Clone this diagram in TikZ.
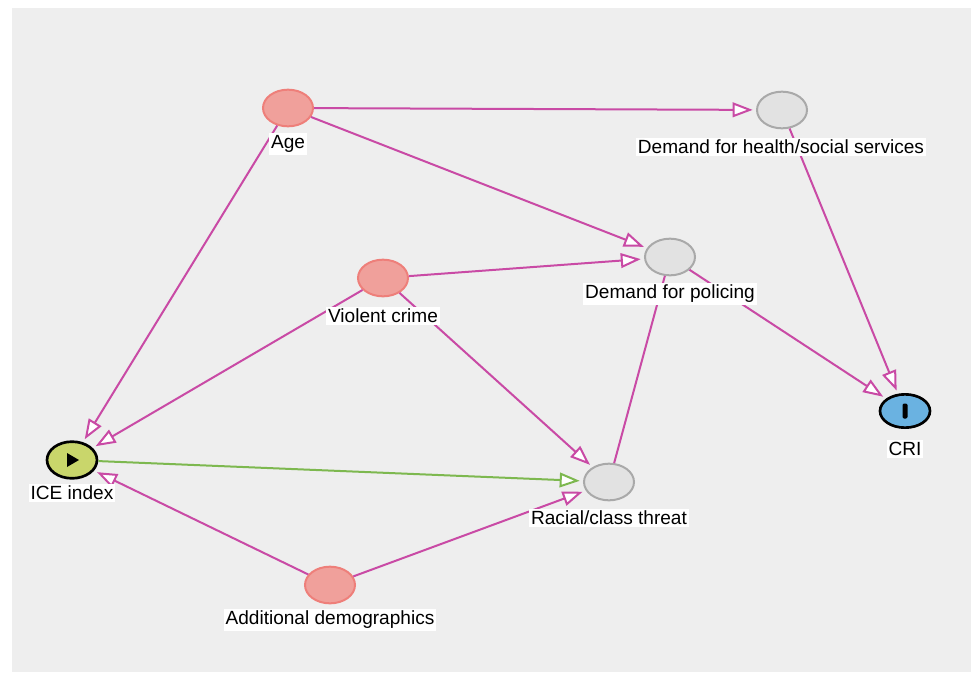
\documentclass[tikz,border=0pt]{standalone}
\usepackage{fontspec}
\setmainfont{Liberation Sans}
\usepackage{xcolor}
\usetikzlibrary{shapes.geometric,arrows.meta}
\definecolor{bgcol}{HTML}{EEEEEE}
\definecolor{edgecol}{HTML}{C94AA5}
\definecolor{greenedge}{HTML}{7DB84F}
\definecolor{pinkfill}{HTML}{F0A09B}
\definecolor{pinkline}{HTML}{EE7F7A}
\definecolor{grayfill}{HTML}{E2E2E2}
\definecolor{grayline}{HTML}{A9A9A9}
\definecolor{icefill}{HTML}{C9D66B}
\definecolor{crifill}{HTML}{6AB2E1}
\tikzset{
  var/.style={ellipse, minimum width=37.5pt, minimum height=27.5pt, inner sep=0pt, line width=1.5pt},
  ancestor/.style={var, fill=pinkfill, draw=pinkline},
  mediator/.style={var, fill=grayfill, draw=grayline},
  exposure/.style={var, fill=icefill, draw=black, line width=2pt},
  outcome/.style={var, fill=crifill, draw=black, line width=2pt, minimum height=25pt},
  lbl/.style={fill=white, inner sep=1.5pt, font=\fontsize{14.3}{16}\selectfont},
  causal/.style={draw=edgecol, line width=1.5pt, shorten >=2.5pt,
    -{Triangle[length=15pt, width=11pt, fill=white, line width=1.5pt]}},
}
\begin{document}
\begin{tikzpicture}[x=0.75pt,y=-0.75pt]
  \useasboundingbox (0,0) rectangle (971,672);
  \fill[white] (0,0) rectangle (971,672);
  \fill[bgcol] (12,8) rectangle (971,672);

  \node[ancestor] (age) at (288,108) {};
  \node[mediator] (health) at (782,110) {};
  \node[mediator] (policing) at (670,257) {};
  \node[ancestor] (crime) at (383,278) {};
  \node[outcome] (cri) at (905,411) {};
  \node[exposure] (ice) at (72,460) {};
  \node[mediator] (threat) at (609,482) {};
  \node[ancestor] (demog) at (330,585) {};

  \draw[causal] (age) -- (health);
  \draw[causal] (age) -- (policing);
  \draw[causal] (age) -- (ice);
  \draw[causal] (health) -- (cri);
  \draw[causal] (crime) -- (policing);
  \draw[causal] (crime) -- (ice);
  \draw[causal] (crime) -- (threat);
  \draw[causal] (policing) -- (cri);
  \draw[draw=edgecol, line width=1.5pt] (threat) -- (policing);
  \draw[causal, draw=greenedge] (ice) -- (threat);
  \draw[causal] (demog) -- (ice);
  \draw[causal] (demog) -- (threat);

  \fill (ice.center) ++(-5,-7) -- ++(12,7) -- ++(-12,7) -- cycle;
  \fill[rounded corners=1pt] (cri.center) ++(-2.5,-7.5) rectangle ++(5,15);

  \node[lbl] (age-l) at (288,144) {Age};
  \node[lbl] (health-l) at (781,147) {Demand for health/social services};
  \node[lbl] (policing-l) at (670,294) {Demand for policing};
  \node[lbl] (crime-l) at (383,316) {Violent crime};
  \node[lbl] (cri-l) at (905,449) {CRI};
  \node[lbl] (ice-l) at (72,493) {ICE index};
  \node[lbl] (threat-l) at (609,518) {Racial/class threat};
  \node[lbl] (demog-l) at (330,620) {Additional demographics};
\end{tikzpicture}
\end{document}
